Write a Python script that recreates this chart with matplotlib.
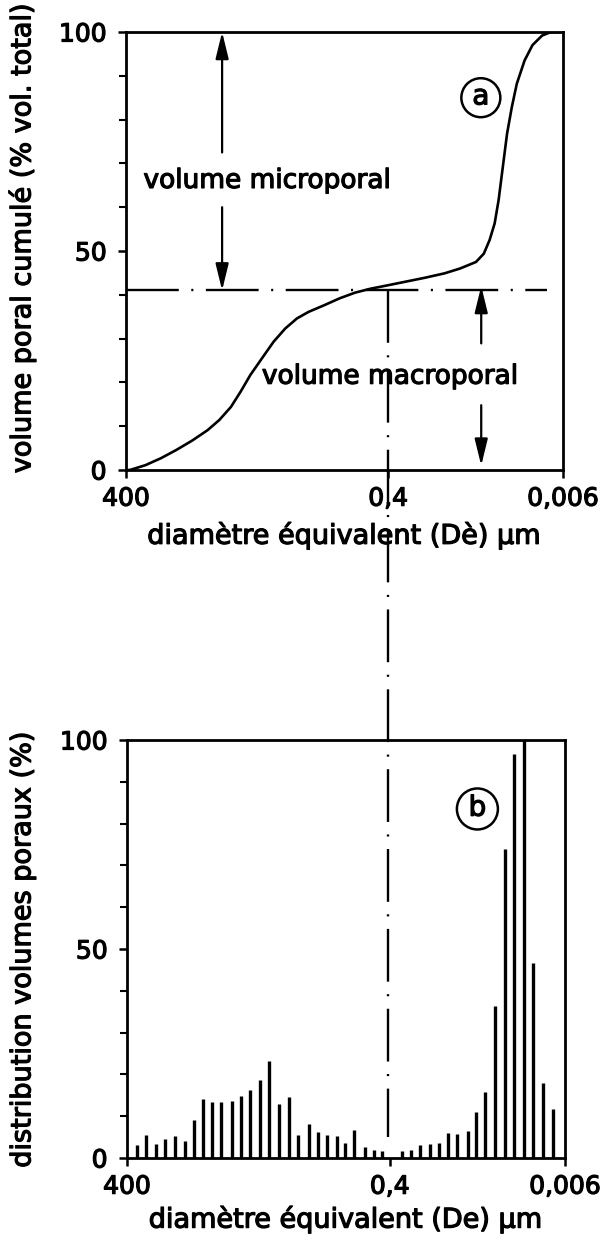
import numpy as np
import matplotlib
matplotlib.use("Agg")
import matplotlib.pyplot as plt
from matplotlib.ticker import FixedLocator, FixedFormatter, NullLocator, MultipleLocator
from matplotlib.patches import Ellipse
from matplotlib.lines import Line2D
import matplotlib.transforms as mtransforms
import matplotlib.patheffects as pe

plt.rcParams['font.family'] = ['DejaVu Sans']
plt.rcParams['lines.scale_dashes'] = False

# ---------------- data ----------------
# (a) cumulative pore volume curve
cum_diam = [400, 361, 240, 159, 105.7, 70.2, 46.6, 34.3, 25.2, 19.5, 15.1,
            11.13, 8.18, 6.03, 4.43, 3.26, 2.17, 1.437, 0.955, 0.634, 0.421,
            0.2628, 0.1648, 0.1033, 0.0712, 0.0485, 0.0402, 0.035, 0.031,
            0.0282, 0.0252, 0.023, 0.0205, 0.0182, 0.0151, 0.0125,
            0.0099, 0.0080, 0.00628]
cum_vol = [0, 0, 1.1, 2.7, 4.6, 6.7, 9.1, 11.4, 14.4, 17.9, 21.7,
           25.5, 29.3, 32.3, 34.6, 36.1, 37.6, 39.2, 40.5, 41.4, 42.1,
           43.0, 43.9, 44.9, 46.0, 47.5, 49.4, 52.5, 56.3,
           61.6, 70.0, 76.8, 82.9, 88.2, 93.5, 97.0,
           99.2, 100, 100]

# (b) pore volume distribution bars
bar_diam = [307, 240, 186, 145.5, 111.8, 88.2, 68.9, 54.0, 42.5, 33.8, 25.6,
            19.8, 15.8, 12.1, 9.55, 7.34, 5.73, 4.45, 3.35, 2.67, 2.07, 1.60,
            1.29, 1.015, 0.766, 0.610, 0.485, 0.300, 0.239, 0.193, 0.154,
            0.123, 0.0992, 0.0799, 0.0618, 0.0502, 0.0404, 0.0323, 0.0252,
            0.0206, 0.0161, 0.01285, 0.01009, 0.00794]
bar_val = [3.0, 5.4, 3.3, 4.5, 5.3, 4.1, 9.0, 14.2, 13.5, 13.5, 13.7,
           14.9, 16.3, 18.6, 23.3, 12.9, 14.6, 5.6, 8.1, 6.2, 5.6, 5.3,
           3.6, 6.6, 2.7, 1.8, 1.6, 1.6, 1.8, 3.0, 3.3,
           3.6, 6.0, 5.7, 6.5, 10.9, 15.8, 36.3, 73.9,
           96.6, 100, 46.6, 17.9, 11.8]

x_ticks = [400, 0.4, 0.006]
x_ticklabels = ['400', '0,4', '0,006']
y_ticks = [0, 50, 100]
y_ticklabels = ['0', '50', '100']

limit_diam = 0.4          # separation micro / macro
limit_vol = 41            # cumulative volume at the limit

micro_arrow_x = 31.8
macro_arrow_x = 0.0428

# ---------------- scale ----------------
U0 = np.log10(0.4)
S_HI = 0.6 / (np.log10(400) - U0)
S_LO = 0.4 / (U0 - np.log10(0.006))

def fwd(d):
    d = np.asarray(d, float)
    u = np.log10(np.where(d > 0, d, 1e-300))
    return np.where(u >= U0, (u - U0) * S_HI, (u - U0) * S_LO)

def inv(v):
    v = np.asarray(v, float)
    with np.errstate(over='ignore'):
        u = np.where(v >= 0, U0 + v / S_HI, U0 + v / S_LO)
        return np.power(10.0, np.clip(u, -300, 300))

BOLD = [pe.withStroke(linewidth=0.9, foreground='black')]

W, H = 607, 1244
fig = plt.figure(figsize=(W / 100, H / 100), dpi=100)
fig.patch.set_facecolor('white')

ax1 = fig.add_axes([126 / W, 1 - 470 / H, 437 / W, 438 / H])
ax2 = fig.add_axes([127 / W, 1 - 1158 / H, 438 / W, 418 / H])

TICK_FS = 18
LAB_FS = 19.5

for ax in (ax1, ax2):
    ax.set_xscale('function', functions=(fwd, inv))
    ax.set_xlim(400, 0.006)
    ax.set_ylim(0, 100)
    ax.xaxis.set_major_locator(FixedLocator(x_ticks))
    ax.xaxis.set_major_formatter(FixedFormatter(x_ticklabels))
    ax.xaxis.set_minor_locator(NullLocator())
    ax.yaxis.set_major_locator(FixedLocator(y_ticks))
    ax.yaxis.set_major_formatter(FixedFormatter(y_ticklabels))
    ax.yaxis.set_minor_locator(MultipleLocator(10))
    for s in ax.spines.values():
        s.set_linewidth(2.0)
    ax.tick_params(axis='both', which='major', direction='out', length=6,
                   width=1.8, labelsize=TICK_FS)
    ax.tick_params(axis='y', which='minor', direction='out', length=5, width=1.5)
    ax.tick_params(axis='y', which='major', pad=8)
    ax.tick_params(axis='x', which='major', pad=6)
    for lab in ax.get_xticklabels() + ax.get_yticklabels():
        lab.set_path_effects(BOLD)

# ---- panel a ----
ax1.plot(cum_diam, cum_vol, color='black', lw=1.9, solid_capstyle='round',
         solid_joinstyle='round')
ax1.plot([400, 0.00875], [limit_vol, limit_vol], color='black', lw=1.7,
         linestyle=(0, (38, 9, 1.5, 9)))

akw = dict(arrowstyle='-|>,head_length=0.9,head_width=0.22', lw=1.6,
           color='black', shrinkA=0, shrinkB=0, mutation_scale=18)
ax1.annotate('', xy=(micro_arrow_x, 100), xytext=(micro_arrow_x, 72.5), arrowprops=akw)
ax1.annotate('', xy=(micro_arrow_x, limit_vol), xytext=(micro_arrow_x, 60), arrowprops=akw)
ax1.annotate('', xy=(macro_arrow_x, 42), xytext=(macro_arrow_x, 28.9), arrowprops=akw)
ax1.annotate('', xy=(macro_arrow_x, 1), xytext=(macro_arrow_x, 14.8), arrowprops=akw)

ax1.text(0.04, 0.66, 'volume microporal', transform=ax1.transAxes,
         ha='left', va='center', fontsize=19, path_effects=BOLD)
ax1.text(0.311, 0.213, 'volume macroporal', transform=ax1.transAxes,
         ha='left', va='center', fontsize=19, path_effects=BOLD)

ax1.add_patch(Ellipse((0.812, 0.85), 39 / 437, 39 / 438, transform=ax1.transAxes,
                      fc='white', ec='black', lw=1.8, zorder=3))
ax1.text(0.812, 0.853, 'a', transform=ax1.transAxes, ha='center', va='center',
         fontsize=20, zorder=4, path_effects=BOLD)

ax1.set_ylabel('volume poral cumulé (% vol. total)', fontsize=LAB_FS,
               path_effects=BOLD)
ax1.yaxis.set_label_coords(-0.205, 0.53)
ax1.set_xlabel('diamètre équivalent (Dè) µm', fontsize=LAB_FS, labelpad=8,
               path_effects=BOLD)

# ---- panel b ----
ax2.vlines(bar_diam, 0, bar_val, color='black', lw=2.4)
ax2.add_patch(Ellipse((0.80, 0.835), 41 / 438, 41 / 418, transform=ax2.transAxes,
                      fc='white', ec='black', lw=1.8, zorder=3))
ax2.text(0.80, 0.838, 'b', transform=ax2.transAxes, ha='center', va='center',
         fontsize=20, zorder=4, path_effects=BOLD)
ax2.set_ylabel('distribution volumes poraux (%)', fontsize=LAB_FS,
               path_effects=BOLD)
ax2.yaxis.set_label_coords(-0.207, 0.5)
ax2.set_xlabel('diamètre équivalent (De) µm', fontsize=LAB_FS, labelpad=5,
               path_effects=BOLD)

# ---- vertical dash-dot line through both panels at 0.4 µm ----
fig.canvas.draw()
p1 = ax1.get_position()
p2 = ax2.get_position()
y_top = p1.y0 + p1.height * limit_vol / 100
y_bot = p2.y0 + p2.height * 0.05
trans = mtransforms.blended_transform_factory(ax1.transData, fig.transFigure)
fig.add_artist(Line2D([limit_diam, limit_diam], [y_top, y_bot], transform=trans,
                      color='black', lw=1.7, linestyle=(0, (38, 9, 1.5, 9))))

fig.savefig('out.png', dpi=100, facecolor='white')
